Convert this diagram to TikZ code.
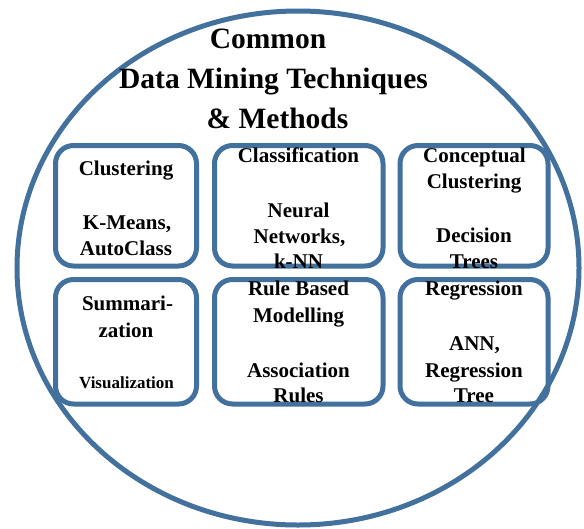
\documentclass[tikz,border=0pt]{standalone}
\usepackage{fontspec}
\setmainfont{Liberation Serif}[BoldFont={Liberation Serif Bold}]
\newfontfamily\tnr{Liberation Serif Bold}
\definecolor{ringblue}{HTML}{41719C}
\begin{document}
\begin{tikzpicture}[x=1pt,y=-1pt,
  ring/.style={draw=ringblue,line width=5pt},
  box/.style={draw=ringblue,line width=5pt,rounded corners=18pt,rectangle,inner sep=0pt},
  ttl/.style={anchor=base,inner sep=0pt,font=\tnr\fontsize{29.5}{40}\selectfont},
  lbl/.style={anchor=base,inner sep=0pt,font=\tnr\fontsize{21}{26}\selectfont},
  sml/.style={anchor=base,inner sep=0pt,font=\tnr\fontsize{17}{20}\selectfont}]
\useasboundingbox (0,0) rectangle (584,528);
\fill[white] (0,0) rectangle (584,528);
% outer ellipse
\draw[ring] (298,268) ellipse [x radius=281, y radius=257];
% title
\node[ttl] (t1) at (268,48) {Common};
\node[ttl] (t2) at (273.5,88) {Data Mining Techniques};
\node[ttl] (t3) at (277.5,128) {\& Methods};
% boxes
\node[box,minimum width=141pt,minimum height=120.5pt] (b1) at (126,205.75) {};
\node[box,minimum width=168.5pt,minimum height=120.5pt] (b2) at (298.75,205.75) {};
\node[box,minimum width=148pt,minimum height=120.5pt] (b3) at (474,205.75) {};
\node[box,minimum width=141pt,minimum height=124.5pt] (b4) at (126,341.75) {};
\node[box,minimum width=168.5pt,minimum height=124.5pt] (b5) at (298.75,341.75) {};
\node[box,minimum width=148pt,minimum height=124.5pt] (b6) at (474,341.75) {};
% box 1
\node[lbl] (l1a) at (126,175) {Clustering};
\node[lbl] (l1b) at (127,229) {K-Means,};
\node[lbl] (l1c) at (126,255) {AutoClass};
% box 2
\node[lbl] (l2a) at (298.5,162) {Classification};
\node[lbl] (l2b) at (298.5,217) {Neural};
\node[lbl] (l2c) at (299.5,243) {Networks,};
\node[lbl] (l2d) at (298.5,268) {k-NN};
% box 3
\node[lbl] (l3a) at (474.5,162) {Conceptual};
\node[lbl] (l3b) at (474,188) {Clustering};
\node[lbl] (l3c) at (474,242) {Decision};
\node[lbl] (l3d) at (474,268) {Trees};
% box 4
\node[lbl] (l4a) at (127.5,310) {Summari-};
\node[lbl] (l4b) at (126,337) {zation};
\node[sml] (l4c) at (126.5,388) {Visualization};
% box 5
\node[lbl] (l5a) at (298.5,295) {Rule Based};
\node[lbl] (l5b) at (298.5,322) {Modelling};
\node[lbl] (l5c) at (298.5,377) {Association};
\node[lbl] (l5d) at (298.5,402) {Rules};
% box 6
\node[lbl] (l6a) at (474,295) {Regression};
\node[lbl] (l6b) at (474.5,350) {ANN,};
\node[lbl] (l6c) at (474,377) {Regression};
\node[lbl] (l6d) at (474,402) {Tree};
\end{tikzpicture}
\end{document}
